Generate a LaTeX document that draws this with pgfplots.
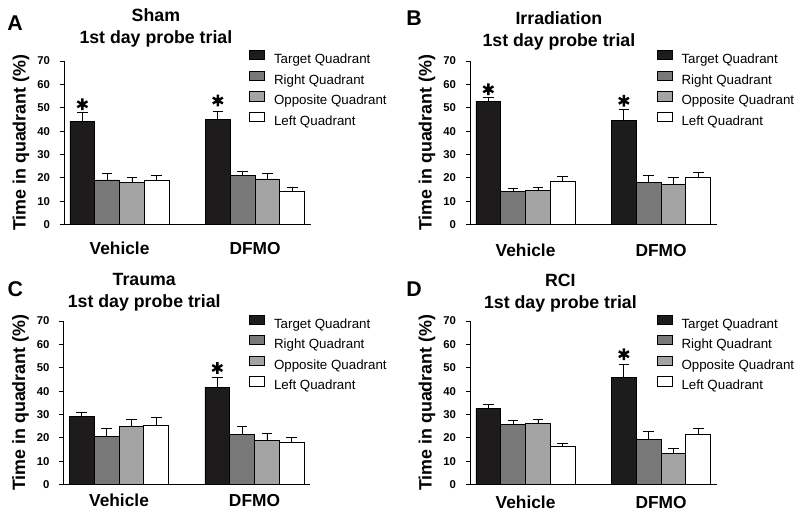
\documentclass[border=0pt]{standalone}
\usepackage{fontspec}
\setmainfont{Liberation Sans}
\usepackage{pgfplots}
\pgfplotsset{compat=1.18}

\definecolor{qT}{HTML}{1E1B1C}
\definecolor{qR}{HTML}{787878}
\definecolor{qO}{HTML}{A4A4A4}

\tikzset{letter/.style={font=\bfseries\fontsize{16}{18}\selectfont}}

\pgfplotsset{
  panel/.style={
    scale only axis, width=185.25pt, height=122.6pt,
    xmin=-0.41, xmax=1.413, ymin=0, ymax=70,
    axis x line*=bottom, axis y line*=left,
    axis line style={-, line width=0.6pt, black},
    ybar=0pt, bar width=0.183,
    xtick={0,1}, xticklabels={Vehicle,DFMO},
    x tick style={draw=none},
    ytick={0,10,...,70}, tick align=outside, major tick length=3pt,
    y tick style={line width=0.6pt, black},
    /pgf/number format/assume math mode=true,
    yticklabel style={font=\bfseries\fontsize{8.5}{9}\selectfont, xshift=-4pt},
    ylabel={Time in quadrant (\%)},
    every axis y label/.style={at={(axis description cs:-0.174,0.5)}, rotate=90,
      anchor=center, font=\bfseries\fontsize{13.4}{15}\selectfont},
    title style={anchor=south, align=center, font=\bfseries\fontsize{13.3}{16.5}\selectfont},
    error bars/y dir=plus, error bars/y explicit,
    error bars/error bar style={line width=0.6pt, black},
    error bars/error mark options={rotate=90, line width=0.6pt, black, mark size=4pt},
    legend style={draw=none, fill=none, inner sep=0pt, outer sep=0pt,
      anchor=north west, row sep=2.3pt,
      font=\fontsize{10}{12}\selectfont,
      nodes={inner sep=1pt, text height=7.5pt, text depth=2pt},
      /tikz/every odd column/.append style={column sep=5.75pt}},
    legend cell align=left,
    legend image code/.code={\draw[##1, draw=black, line width=0.6pt] (0pt,0.1pt) rectangle (11.25pt,7.1pt);},
  },
  tbar/.style={fill=qT, draw=black, line width=0.6pt},
  rbar/.style={fill=qR, draw=black, line width=0.6pt},
  obar/.style={fill=qO, draw=black, line width=0.6pt},
  lbar/.style={fill=white, draw=black, line width=0.6pt},
  star/.style={only marks, forget plot, mark=asterisk, mark size=4.4pt,
    mark options={line width=1.8pt, black}, error bars/y dir=none},
}

\begin{document}
\begin{tikzpicture}
\useasboundingbox (0,0) rectangle (600pt,387pt);

% A: Sham
\begin{axis}[panel, at={(48pt,218.6pt)}, anchor=south west,
  title={Sham\\1st day probe trial}, title style={at={(0.372,1)}, yshift=1.1pt},
  xticklabel style={font=\bfseries\fontsize{13}{15}\selectfont, anchor=base, yshift=-19.2pt},
  legend style={at={(0.75,1.067)}}]
\addplot[tbar] coordinates {(0,44.3) +- (0,3.7) (1,45.1) +- (0,3.2)};
\addplot[rbar] coordinates {(0,19.1) +- (0,2.7) (1,21.1) +- (0,1.7)};
\addplot[obar] coordinates {(0,18.1) +- (0,2.0) (1,19.5) +- (0,2.5)};
\addplot[lbar] coordinates {(0,18.8) +- (0,2.2) (1,14.3) +- (0,1.5)};
\addplot[star] coordinates {(-0.2745,51.5) (0.7255,53.1)};
\legend{Target Quadrant, Right Quadrant, Opposite Quadrant, Left Quadrant}
\end{axis}

% B: Irradiation
\begin{axis}[panel, at={(352.5pt,218.6pt)}, anchor=south west,
  title={Irradiation\\1st day probe trial}, title style={at={(0.36,1)}, yshift=-1.5pt},
  xticklabel style={font=\bfseries\fontsize{13}{15}\selectfont, anchor=base, yshift=-21pt},
  legend style={at={(0.756,1.067)}}]
\addplot[tbar] coordinates {(0,52.7) +- (0,1.6) (1,44.6) +- (0,4.7)};
\addplot[rbar] coordinates {(0,14.1) +- (0,1.4) (1,18.1) +- (0,2.9)};
\addplot[obar] coordinates {(0,14.7) +- (0,1.4) (1,17.3) +- (0,2.8)};
\addplot[lbar] coordinates {(0,18.5) +- (0,2.0) (1,20.1) +- (0,2.4)};
\addplot[star] coordinates {(-0.2745,57.9) (0.7255,53.0)};
\legend{Target Quadrant, Right Quadrant, Opposite Quadrant, Left Quadrant}
\end{axis}

% C: Trauma
\begin{axis}[panel, at={(47.6pt,23.6pt)}, anchor=south west,
  title={Trauma\\1st day probe trial}, title style={at={(0.327,1)}, yshift=-1.8pt},
  xticklabel style={font=\bfseries\fontsize{13}{15}\selectfont, anchor=base, yshift=-13.3pt},
  legend style={at={(0.752,1.040)}}]
\addplot[tbar] coordinates {(0,29.0) +- (0,1.8) (1,41.6) +- (0,4.4)};
\addplot[rbar] coordinates {(0,20.6) +- (0,3.3) (1,21.3) +- (0,3.4)};
\addplot[obar] coordinates {(0,24.9) +- (0,2.9) (1,18.9) +- (0,3.0)};
\addplot[lbar] coordinates {(0,25.3) +- (0,3.3) (1,17.9) +- (0,2.3)};
\addplot[star] coordinates {(0.7255,49.9)};
\legend{Target Quadrant, Right Quadrant, Opposite Quadrant, Left Quadrant}
\end{axis}

% D: RCI
\begin{axis}[panel, at={(352.5pt,23.6pt)}, anchor=south west,
  title={RCI\\1st day probe trial}, title style={at={(0.366,1)}, yshift=-2.6pt},
  xticklabel style={font=\bfseries\fontsize{13}{15}\selectfont, anchor=base, yshift=-15pt},
  legend style={at={(0.756,1.040)}}]
\addplot[tbar] coordinates {(0,32.5) +- (0,2.0) (1,45.7) +- (0,5.6)};
\addplot[rbar] coordinates {(0,25.6) +- (0,1.8) (1,19.3) +- (0,3.4)};
\addplot[obar] coordinates {(0,26.0) +- (0,2.1) (1,13.4) +- (0,2.2)};
\addplot[lbar] coordinates {(0,16.2) +- (0,1.4) (1,21.3) +- (0,2.6)};
\addplot[star] coordinates {(0.7255,55.8)};
\legend{Target Quadrant, Right Quadrant, Opposite Quadrant, Left Quadrant}
\end{axis}

\node[letter] at (11.25pt,369.5pt) {A};
\node[letter] at (310.5pt,373.3pt) {B};
\node[letter] at (11.5pt,170pt) {C};
\node[letter] at (310.5pt,170pt) {D};
\end{tikzpicture}
\end{document}
